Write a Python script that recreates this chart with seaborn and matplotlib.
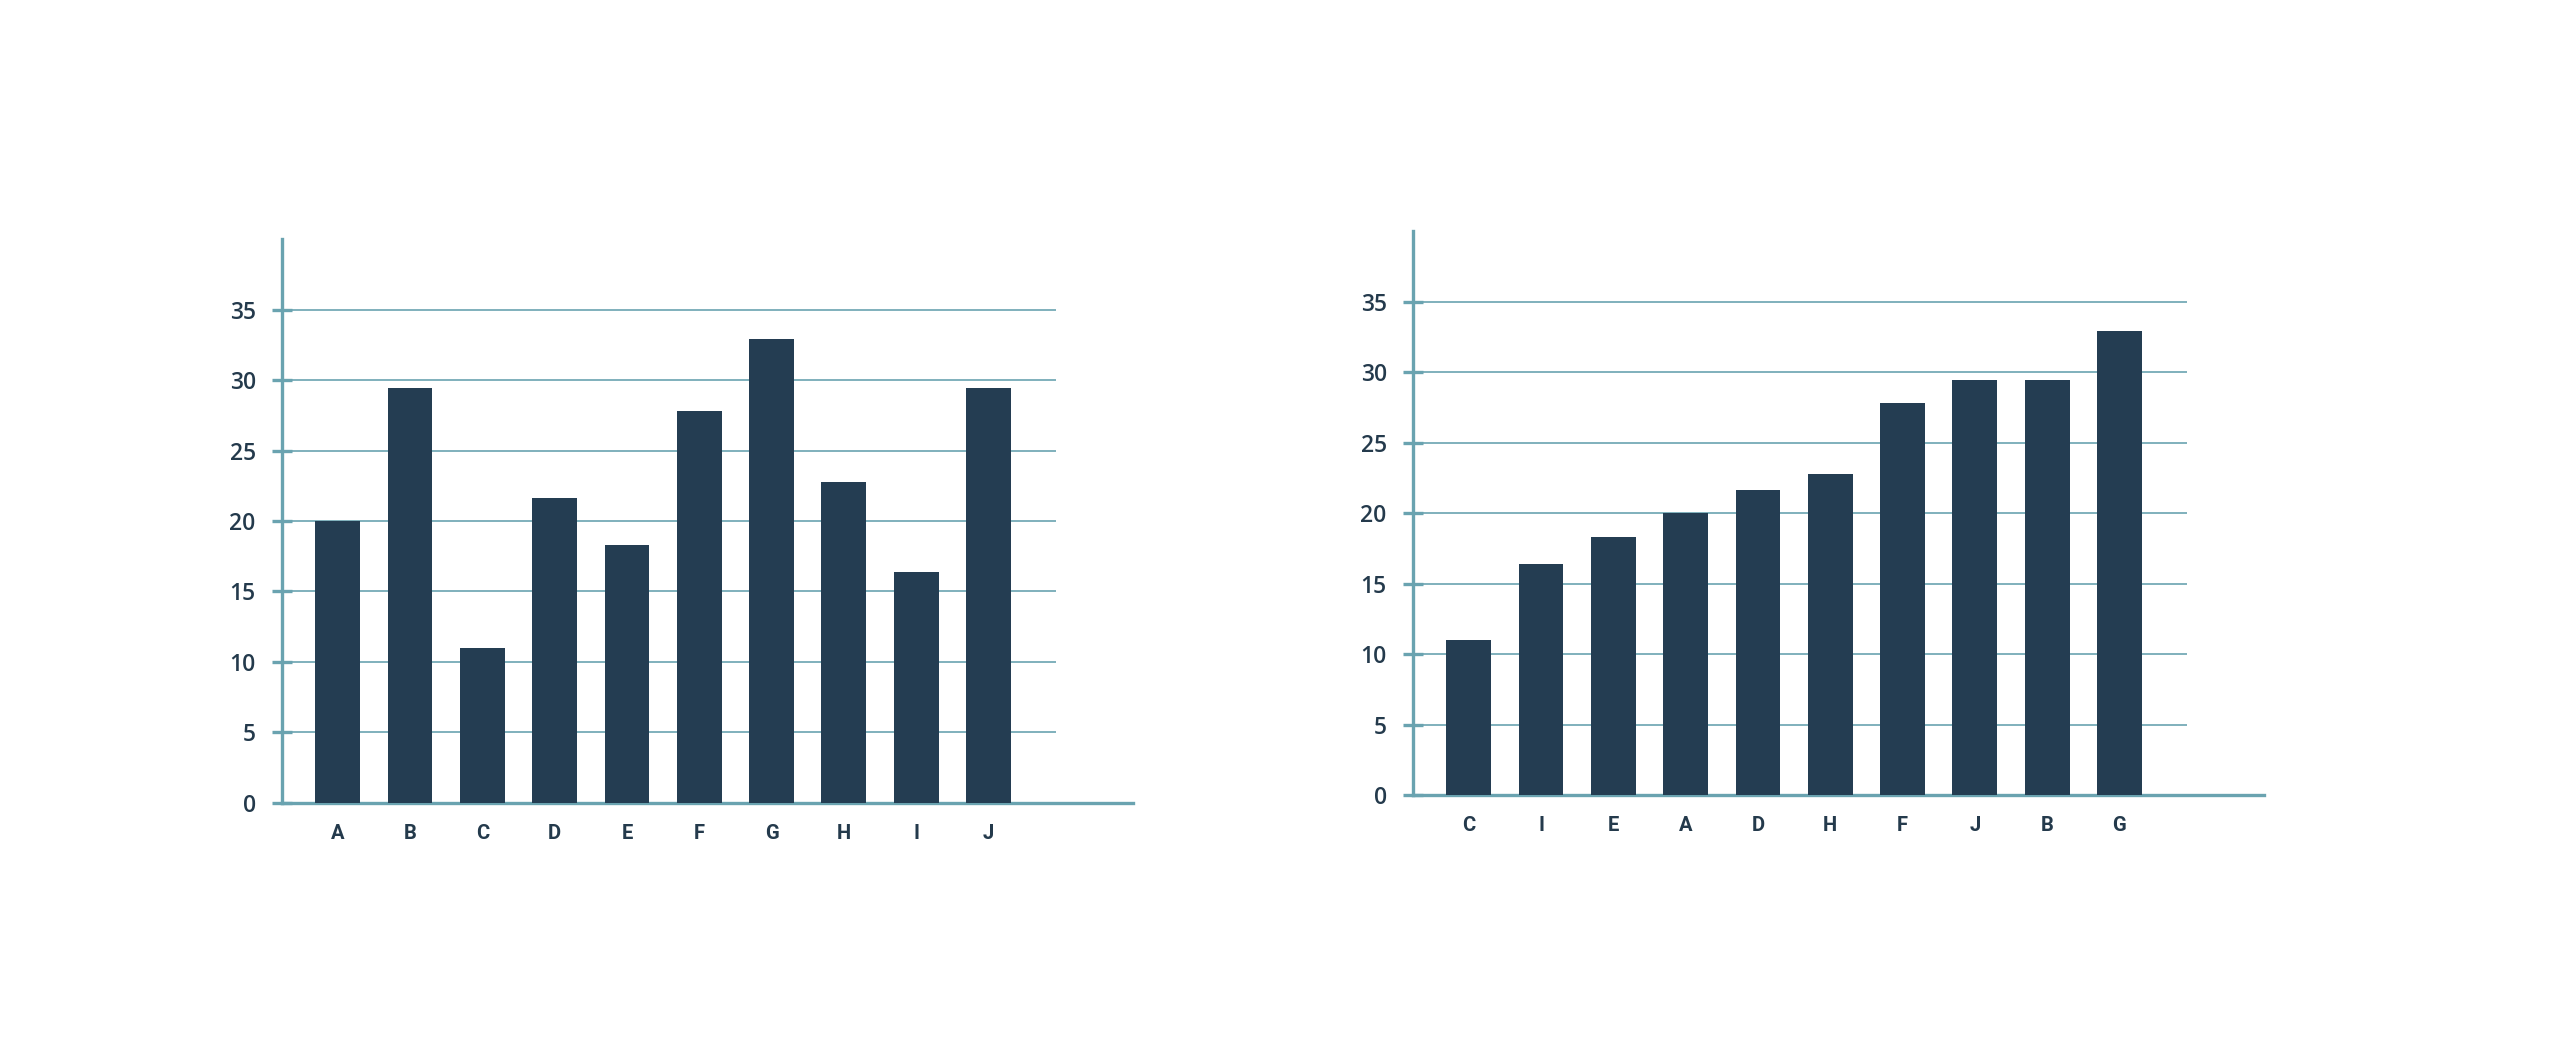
import pandas as pd
import seaborn as sns
import matplotlib.pyplot as plt

# values
categories = ["A", "B", "C", "D", "E", "F", "G", "H", "I", "J"]
values = [20, 29.4, 11, 21.6, 18.3, 27.8, 32.9, 22.8, 16.4, 29.4]
sorted_order = ["C", "I", "E", "A", "D", "H", "F", "J", "B", "G"]
y_ticks = [0, 5, 10, 15, 20, 25, 30, 35]

bar_color = "#243d52"
axis_color = "#6aa3b0"
text_color = "#243a4c"

df = pd.DataFrame({"cat": categories, "val": values})


def draw_panel(ax, order):
    sns.barplot(data=df, x="cat", y="val", order=order, color=bar_color,
                saturation=1, width=0.62, ax=ax, zorder=3)
    ax.set_xlim(-0.77, 11.0)
    ax.set_ylim(0, 40)
    ax.hlines(y_ticks[1:], -0.77, 9.93, color=axis_color, lw=1.2, zorder=1)
    for side in ["top", "right"]:
        ax.spines[side].set_visible(False)
    for side in ["left", "bottom"]:
        ax.spines[side].set_color(axis_color)
        ax.spines[side].set_linewidth(2.4)
    ax.set_yticks(y_ticks)
    ax.set_yticklabels([str(t) for t in y_ticks], fontsize=16.5,
                       family="Open Sans", fontweight=600, color=text_color)
    ax.tick_params(axis="y", direction="inout", length=14, width=2.4,
                   color=axis_color, pad=12)
    ax.tick_params(axis="x", length=0, pad=15)
    for lab in ax.get_xticklabels():
        lab.set_fontsize(14.5)
        lab.set_fontweight("bold")
        lab.set_family("Roboto")
        lab.set_color(text_color)
    ax.set_xlabel("")
    ax.set_ylabel("")


fig = plt.figure(figsize=(25.6, 10.42), dpi=100)
ax1 = fig.add_axes([0.1102, 0.2294, 0.3324, 0.5412])
ax2 = fig.add_axes([0.5520, 0.2370, 0.3324, 0.5413])

draw_panel(ax1, categories)
draw_panel(ax2, sorted_order)

fig.savefig("out.png", dpi=100, facecolor="white")
